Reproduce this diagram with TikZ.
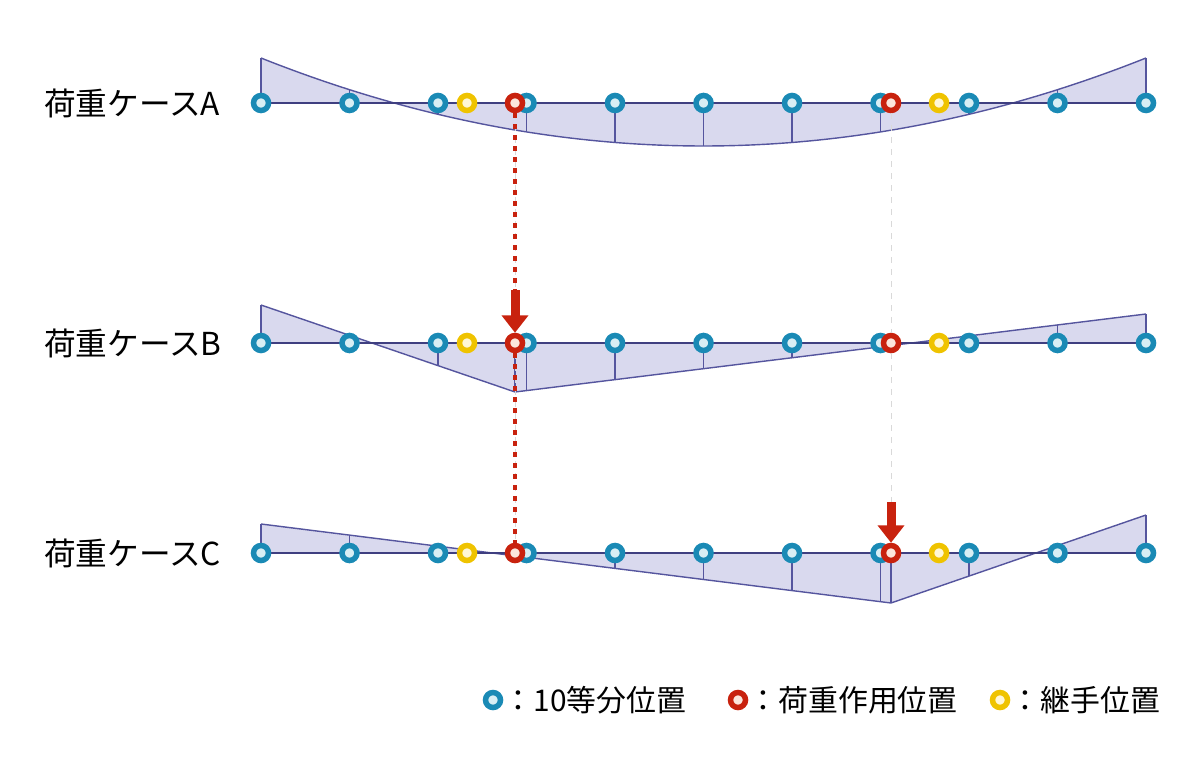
\documentclass[tikz,border=0pt]{standalone}
\usepackage{fontspec}
\setmainfont{Noto Sans CJK JP}
\usetikzlibrary{arrows.meta,positioning}
\definecolor{divblue}{HTML}{1A8AB5}
\definecolor{divfill}{HTML}{D8EEF4}
\definecolor{loadred}{HTML}{C8220E}
\definecolor{loadfill}{HTML}{FCE6DC}
\definecolor{jointyel}{HTML}{EFC300}
\definecolor{jointfill}{HTML}{FFF7D6}
\definecolor{inflline}{HTML}{55559E}
\definecolor{inflfill}{HTML}{D9D9EE}
\definecolor{beamline}{HTML}{3F3F80}
\pgfdeclarelayer{bg}
\pgfsetlayers{bg,main}
\tikzset{
  ringpt/.style={circle,line width=1.1mm,minimum size=3.0mm,inner sep=0pt},
  divpt/.style={ringpt,draw=divblue,fill=divfill},
  loadpt/.style={ringpt,draw=loadred,fill=loadfill},
  jointpt/.style={ringpt,draw=jointyel,fill=jointfill},
}
\begin{document}
\begin{tikzpicture}[x=0.02cm,y=-0.02cm,
  caselabel/.style={anchor=west,inner sep=0pt,font=\fontsize{18}{21}\selectfont},
  keytext/.style={inner sep=0pt,font=\fontsize{17}{21}\selectfont},
  infl/.style={fill=inflfill},
  inflln/.style={draw=inflline,line width=0.8pt},
  axisln/.style={draw=beamline,line width=1pt},
  guide/.style={draw=black!15,line width=0.4pt,dash pattern=on 1.2mm off 1.2mm},
  loaddot/.style={draw=loadred,line width=0.9mm,dash pattern=on 0.9mm off 1.3mm},
  loadarrow/.style={draw=loadred,line width=1.8mm,-{Triangle[width=5.2mm,length=3.5mm]}}]
\useasboundingbox (0,0) rectangle (1200,760);
% \draw[help lines,step=100] (0,0) grid (1200,760);

% labels
\node (la) [caselabel] at (44,103) {荷重ケースA};
\node (lb) [caselabel] at (44,343) {荷重ケースB};
\node (lc) [caselabel] at (44,553) {荷重ケースC};

% 10 division points
\foreach \i in {0,...,10}{
  \node (a\i) [divpt] at ({261+88.5*\i},103) {};
  \node (b\i) [divpt] at ({261+88.5*\i},343) {};
  \node (c\i) [divpt] at ({261+88.5*\i},553) {};
}
% joints
\node (ay1) [jointpt] at (467,103) {};
\node (ay2) [jointpt] at (939,103) {};
\node (by1) [jointpt] at (467,343) {};
\node (by2) [jointpt] at (939,343) {};
\node (cy1) [jointpt] at (467,553) {};
\node (cy2) [jointpt] at (939,553) {};
% load points
\node (ar1) [loadpt] at (515,103) {};
\node (ar2) [loadpt] at (891,103) {};
\node (br1) [loadpt] at (515,343) {};
\node (br2) [loadpt] at (891,343) {};
\node (cr1) [loadpt] at (515,553) {};
\node (cr2) [loadpt] at (891,553) {};

\begin{pgfonlayer}{bg}
% case A
\fill[infl] (a0.center) -- plot[domain=261:1146,samples=90] (\x,{146-4.494*((\x-703.5)/100)*((\x-703.5)/100)}) -- (a10.center) -- cycle;
\foreach \i in {0,...,10}{
  \pgfmathsetmacro\xx{261+88.5*\i}
  \draw[inflln] (a\i.center) -- (\xx,{146-4.494*((\xx-703.5)/100)*((\xx-703.5)/100)});
}
\draw[inflln] plot[domain=261:1146,samples=90] (\x,{146-4.494*((\x-703.5)/100)*((\x-703.5)/100)});
% case B
\fill[infl] (b0.center) -- (261,305) -- (515,392) -- (1146,314) -- (b10.center) -- cycle;
\foreach \i in {0,...,10}{
  \pgfmathsetmacro\xx{261+88.5*\i}
  \pgfmathsetmacro\yy{\xx<=515 ? 305+(\xx-261)/254*87 : 392-(\xx-515)/631*78}
  \draw[inflln] (b\i.center) -- (\xx,\yy);
}
\draw[inflln] (261,305) -- (515,392) -- (1146,314);
\draw[inflln,line width=1.3pt] (br1.center) -- (515,392);
% case C
\fill[infl] (c0.center) -- (261,524) -- (891,603) -- (1146,515) -- (c10.center) -- cycle;
\foreach \i in {0,...,10}{
  \pgfmathsetmacro\xx{261+88.5*\i}
  \pgfmathsetmacro\yy{\xx<=891 ? 524+(\xx-261)/630*79 : 603-(\xx-891)/255*88}
  \draw[inflln] (c\i.center) -- (\xx,\yy);
}
\draw[inflln] (261,524) -- (891,603) -- (1146,515);
\draw[inflln,line width=1.3pt] (cr2.center) -- (891,603);
% beams
\draw[axisln] (a0.center) -- (a10.center);
\draw[axisln] (b0.center) -- (b10.center);
\draw[axisln] (c0.center) -- (c10.center);
\end{pgfonlayer}

% guides
\draw[guide] (ar1) -- (br1);
\draw[guide] (br1) -- (cr1);
\draw[guide] (ar2) -- (br2);
\draw[guide] (br2) -- (cr2);
\draw[loaddot] (ar1) -- (br1);
\draw[loaddot] (br1) -- (cr1);

% loads
\coordinate (bload) at (515,290);
\coordinate (cload) at (891,502);
\draw[loadarrow] (bload) -- (br1);
\draw[loadarrow] (cload) -- (cr2);

% legend
\node (k1) [divpt] at (493,700) {};
\node (t1) [keytext,right=0pt of k1] {：10等分位置};
\node (k2) [loadpt] at (738,700) {};
\node (t2) [keytext,right=0pt of k2] {：荷重作用位置};
\node (k3) [jointpt] at (1000,700) {};
\node (t3) [keytext,right=0pt of k3] {：継手位置};
\end{tikzpicture}
\end{document}
